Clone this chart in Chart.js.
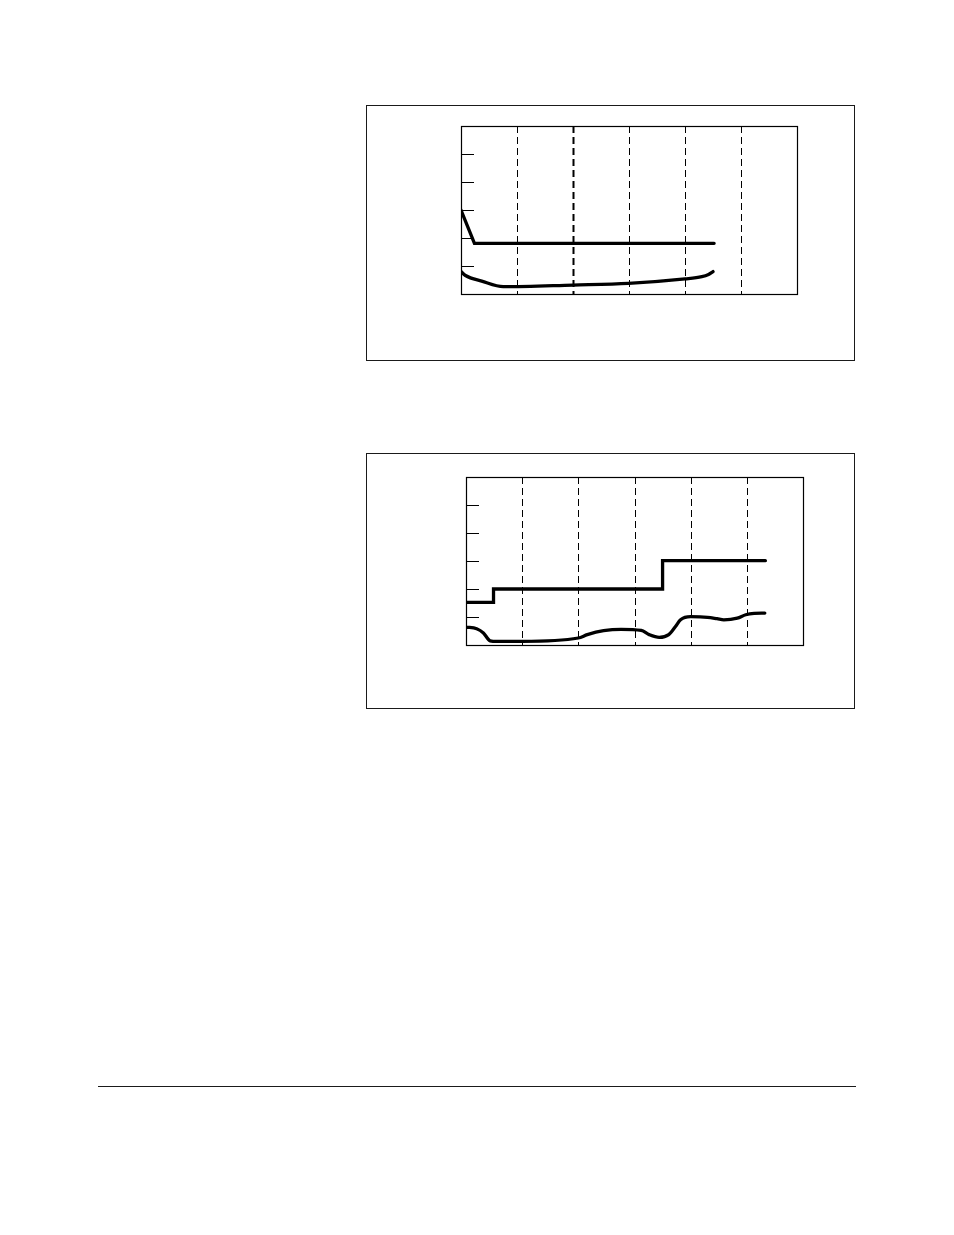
<!DOCTYPE html>
<html>
<head>
<meta charset="utf-8">
<script src="https://cdn.jsdelivr.net/npm/chart.js@4.4.1/dist/chart.umd.min.js"></script>
<style>
  html, body { margin: 0; padding: 0; background: #fff; }
  body { width: 954px; height: 1235px; position: relative; overflow: hidden; font-family: "Liberation Sans", Arial, sans-serif; }
  .box { position: absolute; border: 1.5px solid #1a1a1a; box-sizing: border-box; }
  canvas.c { position: absolute; }
  .rule { position: absolute; left: 98px; top: 1086px; width: 758px; height: 1.3px; background: #1a1a1a; }
</style>
</head>
<body>
<div class="box" style="left:366px;top:105px;width:489px;height:256px;"></div>
<canvas id="c1" class="c" width="489" height="256" style="left:366px;top:105px;width:489px;height:256px;"></canvas>
<div class="box" style="left:366px;top:453px;width:489px;height:256px;"></div>
<canvas id="c2" class="c" width="489" height="256" style="left:366px;top:453px;width:489px;height:256px;"></canvas>
<div class="rule"></div>
<script>
// ---- Data ----
const xMin = 0, xMax = 6, yMin = 0, yMax = 6;
const gridX = [1, 2, 3, 4, 5];
const tickY = [1, 2, 3, 4, 5];

// Chart 1
const c1UpperX = [0, 0.24, 4.52];
const c1UpperY = [3.0, 1.81, 1.81];
const c1LowerX = [0, 0.08, 0.37, 0.755, 2.0, 2.99, 4.0, 4.30, 4.42, 4.5];
const c1LowerY = [0.80, 0.66, 0.46, 0.26, 0.32, 0.38, 0.54, 0.62, 0.70, 0.80];

// Chart 2
const c2UpperX = [0, 0.49, 0.49, 3.5, 3.5, 5.33];
const c2UpperY = [1.52, 1.52, 2.0, 2.0, 3.01, 3.01];
const c2LowerX = [0, 0.19, 0.31, 0.43, 0.55, 1.0, 2.0, 2.16, 2.45, 2.76, 3.12, 3.26, 3.44, 3.61, 3.73, 3.82, 4.0, 4.30, 4.47, 4.59, 4.83, 4.98, 5.13, 5.32];
const c2LowerY = [0.64, 0.58, 0.43, 0.15, 0.13, 0.13, 0.25, 0.37, 0.51, 0.56, 0.52, 0.37, 0.27, 0.37, 0.66, 0.90, 1.01, 0.99, 0.94, 0.90, 0.96, 1.08, 1.13, 1.14];

function pts(xs, ys) { return xs.map((x, i) => ({ x: x, y: ys[i] })); }

const framePlugin = {
  id: 'frame',
  beforeDatasetsDraw(chart, args, opts) {
    const ctx = chart.ctx, a = chart.chartArea;
    const xs = chart.scales.x, ys = chart.scales.y;
    ctx.save();
    ctx.strokeStyle = '#000';
    ctx.setLineDash([7, 4]);
    gridX.forEach(v => {
      const px = Math.round(xs.getPixelForValue(v)) + 0.5;
      ctx.lineWidth = (opts.thick === v) ? 2 : 1;
      ctx.beginPath();
      ctx.moveTo(px, a.top);
      ctx.lineTo(px, a.bottom);
      ctx.stroke();
    });
    ctx.setLineDash([]);
    ctx.lineWidth = 1;
    tickY.forEach(v => {
      const py = Math.round(ys.getPixelForValue(v)) + 0.5;
      ctx.beginPath();
      ctx.moveTo(a.left, py);
      ctx.lineTo(a.left + 13, py);
      ctx.stroke();
    });
    ctx.lineWidth = 1.2;
    ctx.strokeRect(Math.round(a.left) + 0.5, Math.round(a.top) + 0.5, Math.round(a.right - a.left), Math.round(a.bottom - a.top));
    ctx.restore();
  }
};

function makeChart(id, upper, lower, pad, thick) {
  return new Chart(document.getElementById(id), {
    type: 'line',
    data: {
      datasets: [
        { data: upper, borderColor: '#000', borderWidth: 3.3, pointRadius: 0, tension: 0, borderJoinStyle: 'miter', borderCapStyle: 'round', fill: false },
        { data: lower, borderColor: '#000', borderWidth: 3.3, pointRadius: 0, cubicInterpolationMode: 'monotone', borderCapStyle: 'round', borderJoinStyle: 'round', fill: false }
      ]
    },
    options: {
      responsive: false,
      animation: false,
      devicePixelRatio: 1,
      layout: { padding: pad },
      plugins: { legend: { display: false }, tooltip: { enabled: false }, frame: { thick: thick } },
      scales: {
        x: { type: 'linear', min: xMin, max: xMax, display: false },
        y: { type: 'linear', min: yMin, max: yMax, display: false }
      }
    },
    plugins: [framePlugin]
  });
}

makeChart('c1', pts(c1UpperX, c1UpperY), pts(c1LowerX, c1LowerY), { left: 95, top: 21, right: 58, bottom: 67 }, 2);
makeChart('c2', pts(c2UpperX, c2UpperY), pts(c2LowerX, c2LowerY), { left: 100, top: 24, right: 52, bottom: 64 }, null);
</script>
</body>
</html>
